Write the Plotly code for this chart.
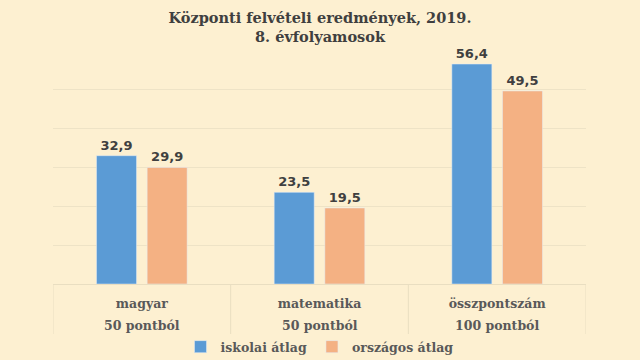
import plotly.graph_objects as go

subjects = ["magyar", "matematika", "összpontszám"]
max_points = ["50 pontból", "50 pontból", "100 pontból"]
school_avg = [32.9, 23.5, 56.4]
national_avg = [29.9, 19.5, 49.5]
series_names = ["iskolai átlag", "országos átlag"]

def fmt(v):
    return f"{v:.1f}".replace(".", ",")

BG = "#FDF0D1"
DIV = "#E9DEC1"
serif = "DejaVu Serif"
label_font = dict(family="DejaVu Sans", size=13, color="#404040", weight="bold")
cat_font = dict(family=serif, size=12.5, color="#595959", weight="bold")

PLOT_H = 360 - 50 - 76

fig = go.Figure()
fig.add_trace(go.Bar(
    x=subjects, y=school_avg, name=series_names[0], marker_color="#5B9BD5",
    text=[fmt(v) for v in school_avg], textposition="outside",
    textfont=label_font, cliponaxis=False,
))
fig.add_trace(go.Bar(
    x=subjects, y=national_avg, name=series_names[1], marker_color="#F4B183",
    text=[fmt(v) for v in national_avg], textposition="outside",
    textfont=label_font, cliponaxis=False,
))

# second row of category labels
for s, p in zip(subjects, max_points):
    fig.add_annotation(
        x=s, xref="x", y=0, yref="paper", yshift=-41,
        text=p, showarrow=False, yanchor="middle", font=cat_font,
    )

# category dividers at the boundaries
for i in range(len(subjects) + 1):
    fig.add_shape(
        type="line", xref="x", yref="paper",
        x0=i - 0.5, x1=i - 0.5, y0=0, y1=-50 / PLOT_H,
        line=dict(color=DIV, width=1), layer="below",
    )

fig.update_layout(
    width=640, height=360,
    paper_bgcolor=BG, plot_bgcolor=BG,
    margin=dict(l=53, r=54, t=50, b=76),
    title=dict(
        text="Központi felvételi eredmények, 2019.<br>8. évfolyamosok",
        x=0.5, xanchor="center", y=0.936, yanchor="top",
        font=dict(family=serif, size=14.5, color="#3F3F3F", weight=800),
    ),
    barmode="group", bargap=0.43, bargroupgap=0.21,
    showlegend=True,
    legend=dict(
        orientation="h", x=0.5, xanchor="center",
        yref="container", y=1 - 347 / 360, yanchor="middle",
        font=dict(family=serif, size=12.5, color="#595959", weight="bold"),
        itemwidth=30, traceorder="normal", bgcolor="rgba(0,0,0,0)",
    ),
)
fig.update_xaxes(
    type="category", automargin=False,
    tickfont=cat_font, ticklabelstandoff=8,
    showline=True, linecolor=DIV, linewidth=1,
    ticks="", showgrid=False,
    range=[-0.5, len(subjects) - 0.5],
)
fig.update_yaxes(
    range=[0, 60], dtick=10, showticklabels=False, automargin=False,
    showgrid=True, gridcolor="#EEE3C6", gridwidth=1,
    zeroline=False, showline=False,
)

fig.write_html(
    "out.html",
    config={"displayModeBar": False},
    post_script="document.body.style.margin='0';",
)
